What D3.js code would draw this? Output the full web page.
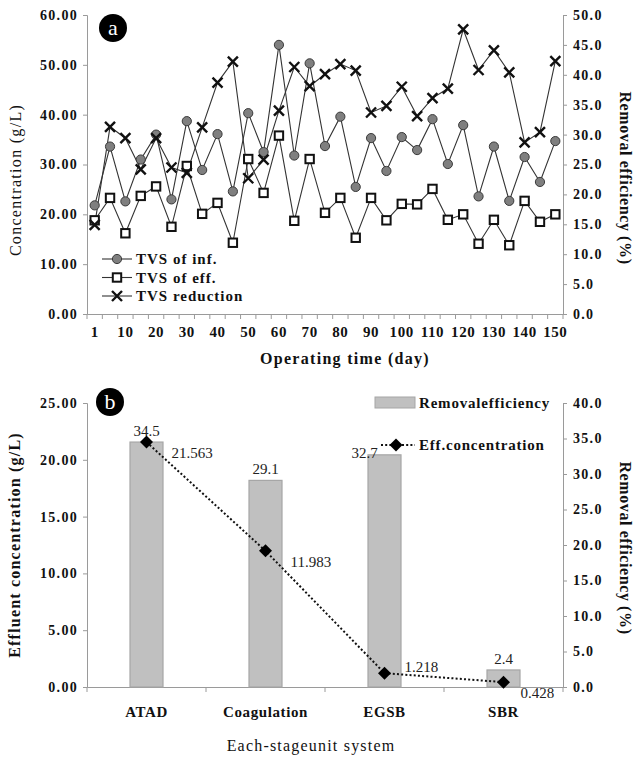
<!DOCTYPE html>
<html><head><meta charset="utf-8">
<script src="https://cdn.jsdelivr.net/npm/d3@7"></script>
<style>
body{margin:0;background:#fff;}
</style></head>
<body><svg id="c" width="634" height="762" font-family="Liberation Serif"></svg>
<script>
// ---------- Chart (a) data ----------
const days = [1,5,10,15,20,25,30,35,40,45,50,55,60,65,70,75,80,85,90,95,100,105,110,115,120,125,130,135,140,145,150];
const tvsInf = [21.8,33.6,22.6,31.0,36.0,23.0,38.7,28.9,36.1,24.6,40.3,32.5,54.0,31.8,50.3,33.7,39.6,25.5,35.3,28.7,35.5,32.9,39.1,30.1,37.9,23.6,33.6,22.7,31.5,26.5,34.7];
const tvsEff = [18.8,23.3,16.2,23.7,25.6,17.5,29.7,20.1,22.3,14.3,31.1,24.3,35.8,18.7,31.1,20.3,23.3,15.3,23.3,18.8,22.1,22.0,25.1,18.9,20.0,14.1,18.9,13.8,22.7,18.5,20.0];
const tvsRed = [14.9,31.3,29.4,24.2,29.4,24.5,23.6,31.2,38.7,42.2,22.7,25.8,34.0,41.3,38.1,40.1,41.8,40.7,33.7,34.8,38.0,33.1,36.1,37.7,47.6,40.8,44.1,40.4,28.7,30.4,42.3];
const dayLabels = [1,10,20,30,40,50,60,70,80,90,100,110,120,130,140,150];
const leftTicksA = [0,10,20,30,40,50,60];
const rightTicksA = [0,5,10,15,20,25,30,35,40,45,50];
const legendA = ["TVS of inf.","TVS of eff.","TVS reduction"];

// ---------- Chart (b) data ----------
const units = ["ATAD","Coagulation","EGSB","SBR"];
const removalEff = [34.5,29.1,32.7,2.4];
const effConc = [21.563,11.983,1.218,0.428];
const effConcLabels = ["21.563","11.983","1.218","0.428"];
const leftTicksB = [0,5,10,15,20,25];
const rightTicksB = [0,5,10,15,20,25,30,35,40];
const legendB = ["Removalefficiency","Eff.concentration"];

const svg = d3.select("#c");
const axisColor = "#9a9a9a";
const FONT = "Liberation Serif";

function styleAxis(g){
  g.attr("font-family",FONT);
  g.select(".domain").attr("stroke",axisColor);
  g.selectAll(".tick line").attr("stroke",axisColor);
  g.selectAll(".tick text").attr("fill","#111").attr("font-size",14).attr("font-weight","bold")
   .style("letter-spacing","1.3px");
}

// =============== Chart (a) ===============
const A = {l:87, r:563, t:15, b:314};
const xA = d3.scaleBand().domain(days).range([A.l,A.r]).padding(0);
const yAL = d3.scaleLinear().domain([0,60]).range([A.b,A.t]);
const yAR = d3.scaleLinear().domain([0,50]).range([A.b,A.t]);
const cx = d => xA(d)+xA.bandwidth()/2;

const gA = svg.append("g");
gA.append("g").attr("transform",`translate(${A.l},0)`)
  .call(d3.axisLeft(yAL).tickValues(leftTicksA).tickFormat(d3.format(".2f")).tickSize(4).tickPadding(5))
  .call(styleAxis);
gA.append("g").attr("transform",`translate(${A.r},0)`)
  .call(d3.axisRight(yAR).tickValues(rightTicksA).tickFormat(d3.format(".1f")).tickSize(4).tickPadding(6))
  .call(styleAxis);
const xAxA = gA.append("g").attr("transform",`translate(0,${A.b})`)
  .call(d3.axisBottom(xA).tickValues(dayLabels).tickSize(0).tickPadding(12))
  .call(styleAxis);
xAxA.selectAll(".tick text").attr("font-size",15).style("letter-spacing","0.6px");
const bounds = days.map(d=>xA(d)).concat([A.r]);
gA.append("g").selectAll("line").data(bounds).join("line")
  .attr("x1",d=>d).attr("x2",d=>d).attr("y1",A.b).attr("y2",A.b+5).attr("stroke",axisColor);

const lineL = d3.line().x((d,i)=>cx(days[i])).y(d=>yAL(d));
const lineR = d3.line().x((d,i)=>cx(days[i])).y(d=>yAR(d));
gA.append("path").datum(tvsRed).attr("d",lineR).attr("fill","none").attr("stroke","#333").attr("stroke-width",1.1);
gA.append("path").datum(tvsInf).attr("d",lineL).attr("fill","none").attr("stroke","#333").attr("stroke-width",1.1);
gA.append("path").datum(tvsEff).attr("d",lineL).attr("fill","none").attr("stroke","#333").attr("stroke-width",1.1);

function circleMark(g,x,y){ g.append("circle").attr("cx",x).attr("cy",y).attr("r",4.6).attr("fill","#7f7f7f").attr("stroke","#3a3a3a").attr("stroke-width",1); }
function squareMark(g,x,y){ g.append("rect").attr("x",x-4.2).attr("y",y-4.2).attr("width",8.4).attr("height",8.4).attr("fill","#fff").attr("stroke","#111").attr("stroke-width",2); }
function crossMark(g,x,y){ const s=5; g.append("path").attr("d",`M${x-s},${y-s}L${x+s},${y+s}M${x-s},${y+s}L${x+s},${y-s}`).attr("stroke","#111").attr("stroke-width",2.4); }

tvsInf.forEach((v,i)=>circleMark(gA,cx(days[i]),yAL(v)));
tvsEff.forEach((v,i)=>squareMark(gA,cx(days[i]),yAL(v)));
tvsRed.forEach((v,i)=>crossMark(gA,cx(days[i]),yAR(v)));

const markers=[circleMark,squareMark,crossMark];
legendA.forEach((t,i)=>{
  const y = 259 + i*18.5;
  gA.append("line").attr("x1",102).attr("x2",132).attr("y1",y).attr("y2",y).attr("stroke","#333").attr("stroke-width",1.1);
  markers[i](gA,117,y);
  gA.append("text").attr("x",136).attr("y",y+5).text(t).attr("font-size",15).attr("font-weight","bold").attr("fill","#111").style("letter-spacing","1px");
});
gA.append("circle").attr("cx",113).attr("cy",28).attr("r",14).attr("fill","#000");
gA.append("text").attr("x",113).attr("y",34.5).attr("text-anchor","middle").attr("fill","#fff").attr("font-size",22).text("a");
gA.append("text").attr("transform",`translate(21,180) rotate(-90)`).attr("text-anchor","middle")
  .attr("font-size",16).attr("fill","#111").style("letter-spacing","1.3px").text("Concentration (g/L)");
gA.append("text").attr("transform",`translate(620,178) rotate(90)`).attr("text-anchor","middle")
  .attr("font-size",16).attr("font-weight","bold").attr("fill","#111").style("letter-spacing","0.6px").text("Removal efficiency (%)");
gA.append("text").attr("x",345).attr("y",364).attr("text-anchor","middle").attr("font-size",16).attr("font-weight","bold")
  .attr("fill","#111").style("letter-spacing","1.3px").text("Operating time (day)");

// =============== Chart (b) ===============
const B = {l:87, r:563, t:403, b:687};
const xB = d3.scaleBand().domain(units).range([B.l,B.r]).padding(0);
const yBL = d3.scaleLinear().domain([0,25]).range([B.b,B.t]);
const yBR = d3.scaleLinear().domain([0,40]).range([B.b,B.t]);
const bx = d => xB(d)+xB.bandwidth()/2;
const gB = svg.append("g");
gB.append("g").attr("transform",`translate(${B.l},0)`)
  .call(d3.axisLeft(yBL).tickValues(leftTicksB).tickFormat(d3.format(".2f")).tickSize(4).tickPadding(5))
  .call(styleAxis);
gB.append("g").attr("transform",`translate(${B.r},0)`)
  .call(d3.axisRight(yBR).tickValues(rightTicksB).tickFormat(d3.format(".1f")).tickSize(4).tickPadding(6))
  .call(styleAxis);
const xAxB = gB.append("g").attr("transform",`translate(0,${B.b})`)
  .call(d3.axisBottom(xB).tickSize(0).tickPadding(19)).call(styleAxis);
xAxB.selectAll(".tick text").attr("font-size",15).style("letter-spacing","0.6px");
gB.append("g").selectAll("line").data(units.map(u=>xB(u)).concat([B.r])).join("line")
  .attr("x1",d=>d).attr("x2",d=>d).attr("y1",B.b).attr("y2",B.b+5).attr("stroke",axisColor);

const bw = 33;
gB.selectAll("rect.bar").data(removalEff).join("rect").attr("class","bar")
  .attr("x",(d,i)=>bx(units[i])-bw/2).attr("width",bw)
  .attr("y",d=>yBR(d)).attr("height",d=>B.b-yBR(d))
  .attr("fill","#c0c0c0").attr("stroke","#a6a6a6").attr("stroke-width",1.2);
gB.selectAll("text.bl").data(removalEff).join("text").attr("class","bl")
  .attr("x",(d,i)=>bx(units[i]) + (i===2?-20:0)).attr("y",(d,i)=>yBR(d)-(i===2?-3:6))
  .attr("text-anchor","middle").attr("font-size",15).attr("fill","#222").text(d=>d.toFixed(1));

const lineB = d3.line().x((d,i)=>bx(units[i])).y(d=>yBL(d));
gB.append("path").datum(effConc).attr("d",lineB).attr("fill","none").attr("stroke","#111")
  .attr("stroke-width",2).attr("stroke-dasharray","2,2.2");
function diamond(g,x,y){ const s=6.5; g.append("path").attr("d",`M${x},${y-s}L${x+s},${y}L${x},${y+s}L${x-s},${y}Z`).attr("fill","#000"); }
effConc.forEach((v,i)=>diamond(gB,bx(units[i]),yBL(v)));
const lblOff = [[25,16],[25,16],[20,-1],[17,16]];
effConc.forEach((v,i)=>{
  gB.append("text").attr("x",bx(units[i])+lblOff[i][0]).attr("y",yBL(v)+lblOff[i][1])
    .attr("font-size",15).attr("fill","#222").text(effConcLabels[i]);
});

gB.append("rect").attr("x",375).attr("y",397).attr("width",40).attr("height",11).attr("fill","#c0c0c0").attr("stroke","#a6a6a6");
gB.append("text").attr("x",419).attr("y",408).attr("font-size",15).attr("font-weight","bold").attr("fill","#111").style("letter-spacing","0.8px").text(legendB[0]);
gB.append("line").attr("x1",381).attr("x2",415).attr("y1",445).attr("y2",445).attr("stroke","#111").attr("stroke-width",2).attr("stroke-dasharray","2,2.2");
diamond(gB,396,445);
gB.append("text").attr("x",419).attr("y",450).attr("font-size",15).attr("font-weight","bold").attr("fill","#111").style("letter-spacing","0.8px").text(legendB[1]);

gB.append("circle").attr("cx",110).attr("cy",402).attr("r",14).attr("fill","#000");
gB.append("text").attr("x",110).attr("y",408.5).attr("text-anchor","middle").attr("fill","#fff").attr("font-size",22).text("b");
gB.append("text").attr("transform",`translate(20,545) rotate(-90)`).attr("text-anchor","middle")
  .attr("font-size",16).attr("font-weight","bold").attr("fill","#111").style("letter-spacing","1.2px").text("Effluent concentration (g/L)");
gB.append("text").attr("transform",`translate(620,548) rotate(90)`).attr("text-anchor","middle")
  .attr("font-size",16).attr("font-weight","bold").attr("fill","#111").style("letter-spacing","0.6px").text("Removal efficiency (%)");
gB.append("text").attr("x",311).attr("y",751).attr("text-anchor","middle").attr("font-size",16)
  .attr("fill","#111").style("letter-spacing","1.2px").text("Each-stageunit system");

svg.selectAll("text").attr("font-family",FONT);
</script></body></html>
